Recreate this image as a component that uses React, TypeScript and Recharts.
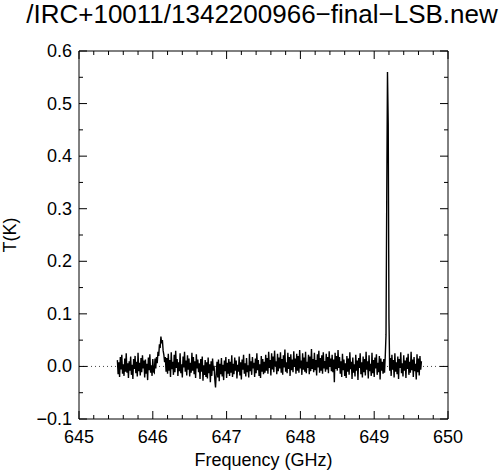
import { Line, LineChart, ReferenceLine, XAxis, YAxis } from "recharts";

const TITLE = "/IRC+10011/1342200966\u2212final\u2212LSB.new";
const FONT = "'Liberation Sans', Arial, Helvetica, sans-serif";

// channel grid of the spectrum (GHz)
const FREQ_START = 645.52;
const FREQ_STEP = 0.01;

// antenna temperature per channel, in mK
const baseLeft = [
  12, -15, 8, -20, 18, -6, 22, -14, 4, -18, 15, -10, 25, -12, 6, -22, 10, -8, 19, -16,
  3, -24, 14, -5, 20, -13, 9, -19, 26, -9, 7, -17, 16, -11, 21, -4, 11, -21, 13, -14,
  5, -26, 17, -7, 23, -12, 2, -18, 14, -10,
];
const line646 = [-12, 15, -4, 18, 6, 28, 20, 42, 35, 57, 44, 50, 30, 22, 8, 18, -10];
const base646b = [
  16, -14, 24, -8, 12, -20, 27, -5, 9, -16, 22, -11, 30, -3, 14, -18, 8, -9, 25, -13,
  4, -21, 19, -2, 28, -10, 11, -17, 21, -6, 15, -19, 7, -12, 26, -8, 18, -15, 10, -22,
  23, -4, 13, -11,
];
const dip647 = [
  6, -24, 14, -10, 19, -27, 2, -16, 12, -20, 8, -23, 17, -13, 4, -30, 10, -18, 15, -8,
  1, -25, -40, -12, 9, -21, 13, -28, 5, -15, 16, -19, 3, -26, 11, -9, 18, -22, 7, -14,
];
const base647 = [
  14, -18, 9, -12, 21, -20, 5, -15, 17, -8, 11, -23, 3, -10, 19, -17, 8, -25, 13, -6,
  22, -14, 6, -19, 16, -11, 2, -21, 24, -9, 10, -16, 18, -4, 7, -20, 15, -13, 25, -7,
  12, -18, 4, -22, 20, -10, 14, -15, 9, -12,
];
const bump648 = [
  22, -8, 16, -14, 28, -3, 12, -17, 25, -6, 19, -11, 30, 0, 10, -15, 24, -9, 17, -4,
  27, -12, 14, -16, 21, -2, 32, -10, 8, -13, 26, -5, 18, -18, 23, -7, 13, -11, 29, -1,
  15, -14, 24, -8, 20, -12, 31, -4, 11, -16, 25, -6, 17, -10, 28, -13, 9, -3, 22, -15,
  19, -9, 33, -5, 14, -11, 26, -7, 12, -17, 23, -2, 30, -12, 16, -8, 21, -14, 27, -4,
  10, -10, 24, -6, 18, -13, 29, -1, 15, -9, 22, -11, 13, -30, 26, -5, 20, -8, 31, -3,
];
const base649 = [
  18, -14, 10, -20, 24, -7, 13, -18, 6, -22, 20, -10, 15, -16, 27, -5, 9, -24, 17, -12,
  4, -19, 22, -8, 11, -26, 16, -3, 25, -15, 8, -21, 19, -11, 14, -17, 28, -6, 10, -23,
  21, -9, 5, -18, 26, -13, 12, -20, 17, -4, 23, -16, 7, -11, 20, -25, 15, -8, 9, -14,
];
const spike649 = [14, -12, 20, 60, 320, 560, 460, 90, -8];
const baseRight = [
  16, -18, 22, -6, 12, -21, 25, -10, 8, -15, 19, -24, 14, -3, 27, -13, 6, -19, 21, -8,
  11, -22, 17, -5, 24, -16, 9, -12, 28, -7, 13, -20, 18, -9, 5, -25, 23, -11, 15, -17,
  20, -6, 10,
];

const tMilliK = [
  ...baseLeft, ...line646, ...base646b, ...dip647, ...base647,
  ...bump648, ...base649, ...spike649, ...baseRight,
];

const xTicks = [
  645, 645.2, 645.4, 645.6, 645.8, 646, 646.2, 646.4, 646.6, 646.8, 647, 647.2, 647.4,
  647.6, 647.8, 648, 648.2, 648.4, 648.6, 648.8, 649, 649.2, 649.4, 649.6, 649.8, 650,
];
const yTicks = [
  -0.1, -0.05, 0, 0.05, 0.1, 0.15, 0.2, 0.25, 0.3, 0.35, 0.4, 0.45, 0.5, 0.55, 0.6,
];

const data = tMilliK.map((t, i) => ({
  freq: +(FREQ_START + i * FREQ_STEP).toFixed(3),
  t: t / 1000,
}));

const isMajorX = (v: number) => Math.abs(v - Math.round(v)) < 1e-6;
const isMajorY = (v: number) => Math.abs(v * 10 - Math.round(v * 10)) < 1e-6;
const fmtY = (v: number) => (v < 0 ? "\u2212" : "") + Math.abs(v).toFixed(1);

function BottomTick({ x, y, payload }: any) {
  const v = payload.value;
  const major = isMajorX(v);
  return (
    <g>
      <line x1={x} x2={x} y1={y} y2={y - (major ? 8 : 4)} stroke="#000" />
      {major && (
        <text x={x} y={y + 24} textAnchor="middle" fontSize={18} fontFamily={FONT} fill="#000">
          {v}
        </text>
      )}
    </g>
  );
}

function TopTick({ x, y, payload }: any) {
  const major = isMajorX(payload.value);
  return <line x1={x} x2={x} y1={y} y2={y + (major ? 8 : 4)} stroke="#000" />;
}

function LeftTick({ x, y, payload }: any) {
  const v = payload.value;
  const major = isMajorY(v);
  return (
    <g>
      <line x1={x} x2={x + (major ? 8 : 4)} y1={y} y2={y} stroke="#000" />
      {major && (
        <text x={x - 7} y={y + 6} textAnchor="end" fontSize={18} fontFamily={FONT} fill="#000">
          {fmtY(v)}
        </text>
      )}
    </g>
  );
}

function RightTick({ x, y, payload }: any) {
  const major = isMajorY(payload.value);
  return <line x1={x} x2={x - (major ? 8 : 4)} y1={y} y2={y} stroke="#000" />;
}

export default function App() {
  return (
    <div style={{ position: "absolute", left: 0, top: 0, width: 500, height: 473, background: "#fff" }}>
      <div
        style={{
          position: "absolute",
          left: 0,
          width: 524,
          top: -1,
          textAlign: "center",
          fontFamily: FONT,
          fontSize: 26,
          lineHeight: "30px",
          color: "#000",
          whiteSpace: "nowrap",
        }}
      >
        {TITLE}
      </div>
      <LineChart
        width={500}
        height={473}
        data={data}
        margin={{ top: 50, right: 51, bottom: 0, left: 0 }}
      >
        <XAxis
          xAxisId="b"
          dataKey="freq"
          type="number"
          domain={[645, 650]}
          allowDataOverflow
          ticks={xTicks}
          interval={0}
          height={54}
          tickSize={0}
          tickMargin={0}
          tickLine={false}
          axisLine={{ stroke: "#000" }}
          tick={<BottomTick />}
          label={{
            value: "Frequency (GHz)",
            position: "insideBottom",
            offset: 7,
            style: { fontSize: 18, fontFamily: FONT, fill: "#000" },
          }}
        />
        <XAxis
          xAxisId="t"
          orientation="top"
          dataKey="freq"
          type="number"
          domain={[645, 650]}
          allowDataOverflow
          ticks={xTicks}
          interval={0}
          height={1}
          tickSize={0}
          tickMargin={0}
          tickLine={false}
          axisLine={{ stroke: "#000" }}
          tick={<TopTick />}
        />
        <YAxis
          yAxisId="l"
          type="number"
          domain={[-0.1, 0.6]}
          allowDataOverflow
          ticks={yTicks}
          interval={0}
          width={79}
          tickSize={0}
          tickMargin={0}
          tickLine={false}
          axisLine={{ stroke: "#000" }}
          tick={<LeftTick />}
          label={{
            value: "T(K)",
            angle: -90,
            position: "insideLeft",
            offset: 10,
            style: { fontSize: 18, fontFamily: FONT, fill: "#000", textAnchor: "middle" },
          }}
        />
        <YAxis
          yAxisId="r"
          orientation="right"
          type="number"
          domain={[-0.1, 0.6]}
          allowDataOverflow
          ticks={yTicks}
          interval={0}
          width={1}
          tickSize={0}
          tickMargin={0}
          tickLine={false}
          axisLine={{ stroke: "#000" }}
          tick={<RightTick />}
        />
        <ReferenceLine xAxisId="b" yAxisId="l" y={0} stroke="#444" strokeDasharray="1 3" />
        <Line
          xAxisId="b"
          yAxisId="l"
          dataKey="t"
          type="linear"
          stroke="#000"
          strokeWidth={1.4}
          dot={false}
          isAnimationActive={false}
        />
      </LineChart>
    </div>
  );
}
